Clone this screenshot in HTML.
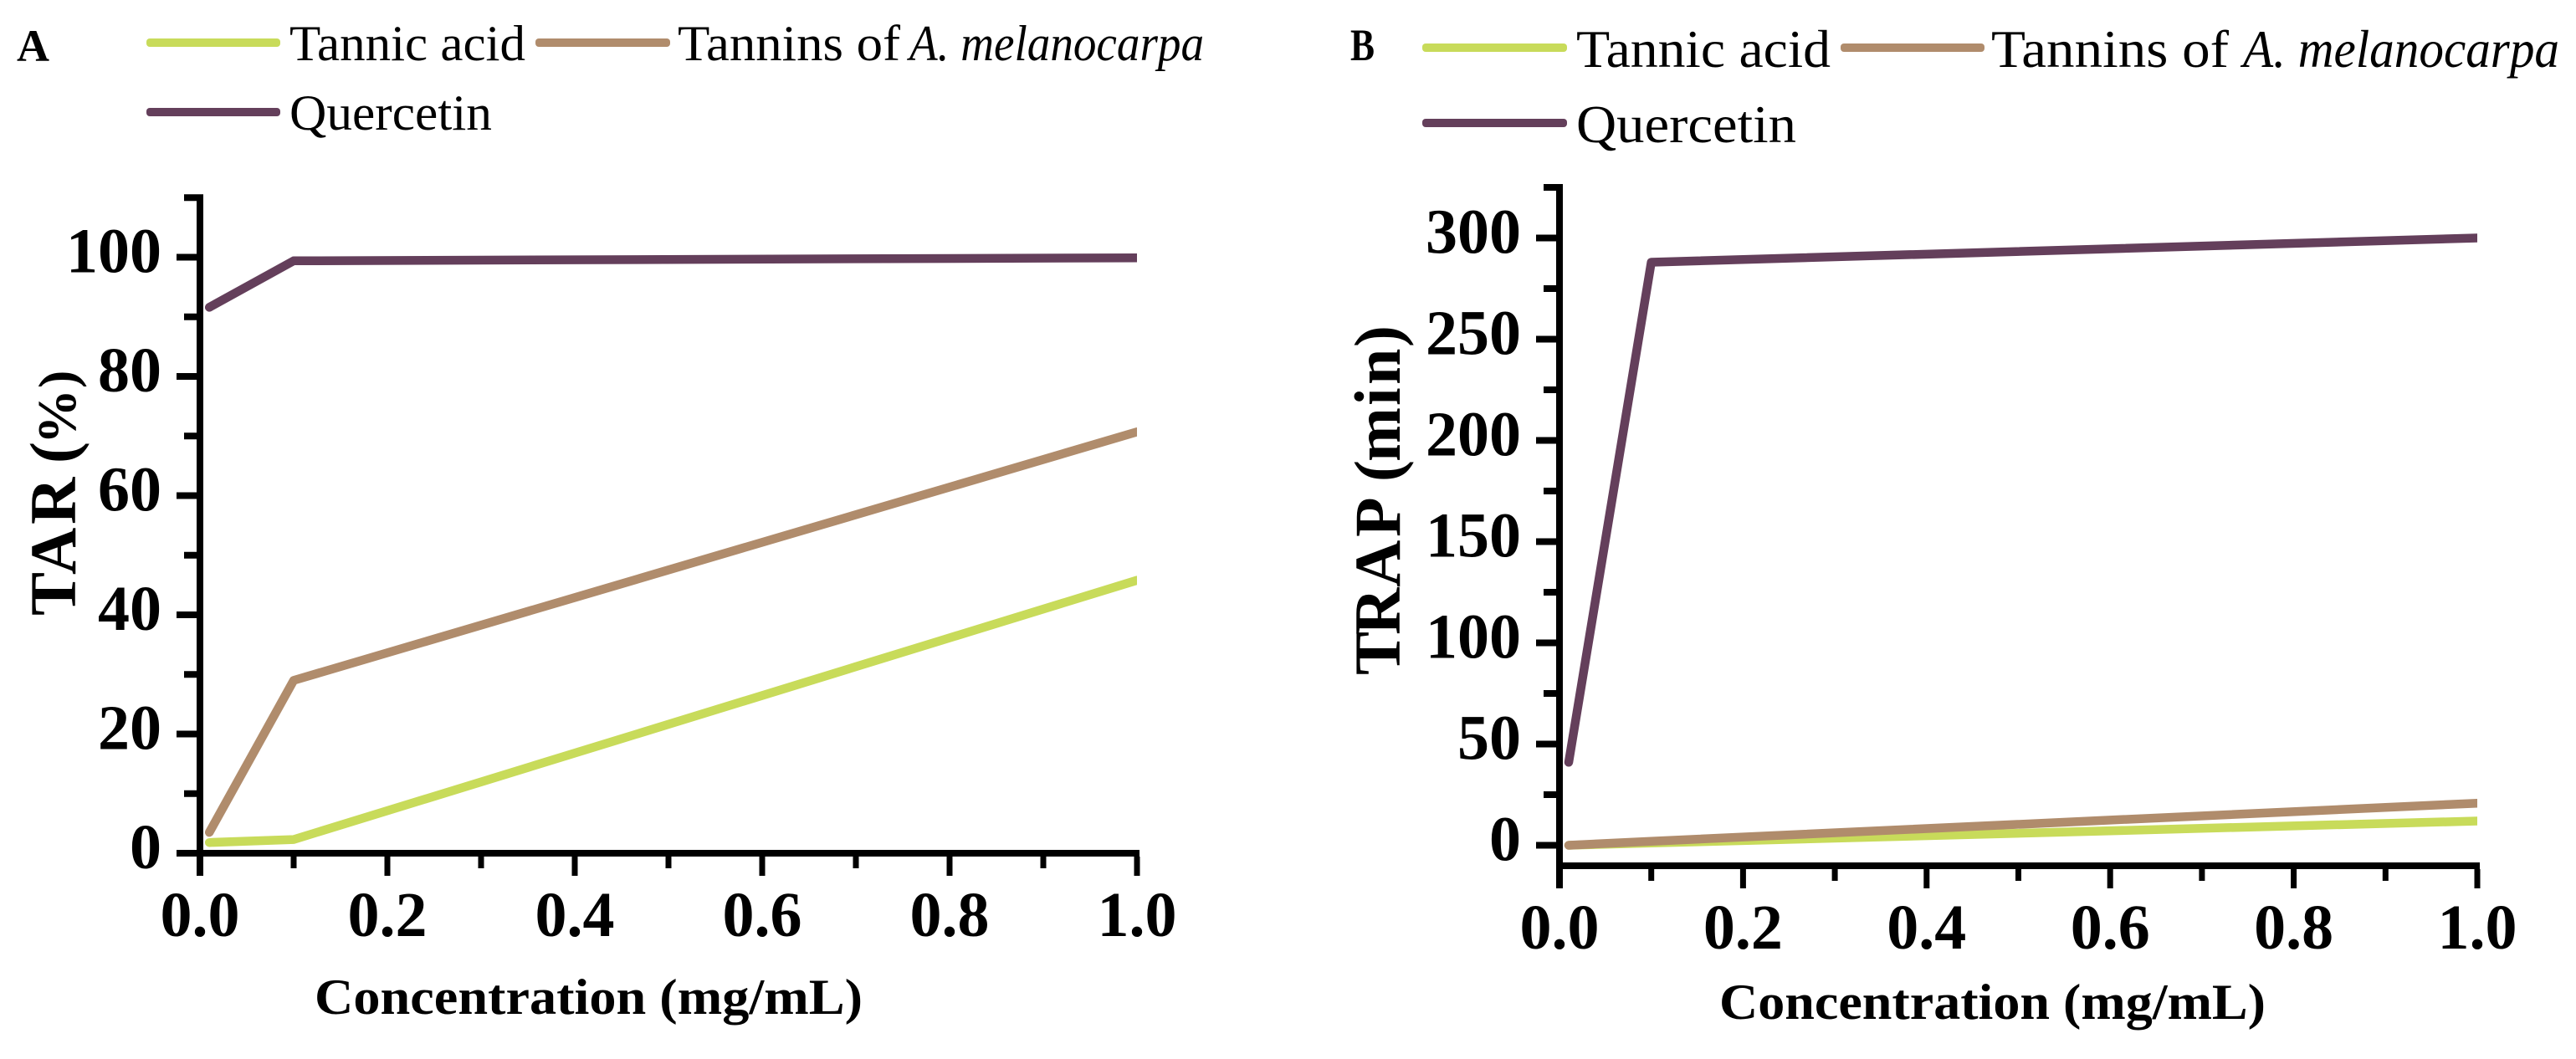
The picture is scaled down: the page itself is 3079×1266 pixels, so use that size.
<!DOCTYPE html>
<html>
<head>
<meta charset="utf-8">
<title>TAR and TRAP charts</title>
<style>
html,body{margin:0;padding:0;background:#fff;}
svg{display:block;}
text{font-family:"Liberation Serif",serif;fill:#000;}
.bold{font-weight:bold;}
</style>
</head>
<body>
<svg id="chart" xmlns="http://www.w3.org/2000/svg" width="3079" height="1266" viewBox="0 0 3079 1266">
  <rect width="3079" height="1266" fill="#fff"/>
  <defs>
    <clipPath id="clip-a"><rect x="239" y="200" width="1120" height="900"/></clipPath>
    <clipPath id="clip-b"><rect x="1864" y="200" width="1097" height="900"/></clipPath>
  </defs>

  <text x="20" y="73" font-size="54" class="bold" textLength="39" lengthAdjust="spacingAndGlyphs">A</text>
  <g>
    <rect x="175" y="46" width="160" height="10" rx="4" fill="#c8db5a"/>
    <text x="346" y="72" font-size="60" textLength="282" lengthAdjust="spacingAndGlyphs">Tannic acid</text>
    <rect x="640" y="46" width="161" height="10" rx="4" fill="#b08c6c"/>
    <text x="810" y="72" font-size="60" textLength="266" lengthAdjust="spacingAndGlyphs">Tannins of</text>
    <text x="1087" y="72" font-size="60" font-style="italic" textLength="352" lengthAdjust="spacingAndGlyphs">A. melanocarpa</text>
    <rect x="175" y="129" width="160" height="10" rx="4" fill="#643f5b"/>
    <text x="346" y="155" font-size="60" textLength="242" lengthAdjust="spacingAndGlyphs">Quercetin</text>
  </g>
  <text transform="translate(90,736) rotate(-90)" font-size="78" class="bold"><tspan x="0 49 109">TAR</tspan> <tspan x="182">(</tspan><tspan x="205" font-size="66">%</tspan><tspan x="272" font-size="64">)</tspan></text>
  <text x="376" y="1212" font-size="60" class="bold" textLength="655" lengthAdjust="spacingAndGlyphs">Concentration (mg/mL)</text>

  <text x="1614" y="72" font-size="54" class="bold" textLength="29" lengthAdjust="spacingAndGlyphs">B</text>
  <g>
    <rect x="1700" y="52" width="173" height="10" rx="4" fill="#c8db5a"/>
    <text x="1884" y="80" font-size="64" textLength="304" lengthAdjust="spacingAndGlyphs">Tannic acid</text>
    <rect x="2200" y="52" width="172" height="10" rx="4" fill="#b08c6c"/>
    <text x="2380" y="80" font-size="64" textLength="284" lengthAdjust="spacingAndGlyphs">Tannins of</text>
    <text x="2681" y="80" font-size="64" font-style="italic" textLength="378" lengthAdjust="spacingAndGlyphs">A. melanocarpa</text>
    <rect x="1700" y="142" width="173" height="10" rx="4" fill="#643f5b"/>
    <text x="1884" y="170" font-size="64" textLength="263" lengthAdjust="spacingAndGlyphs">Quercetin</text>
  </g>
  <text transform="translate(1673,807) rotate(-90)" font-size="78" class="bold"><tspan x="0 48 105 165">TRAP</tspan> <tspan x="231 255 322 347 392">(min)</tspan></text>
  <text x="2055" y="1218" font-size="60" class="bold" textLength="653" lengthAdjust="spacingAndGlyphs">Concentration (mg/mL)</text>

  <g id="panel-a"></g>
  <g id="panel-b"></g>
</svg>
<script>
var concentrations = [0.01, 0.1, 1.0];
var xMajorTicks = [0, 0.2, 0.4, 0.6, 0.8, 1.0];
var xMinorTicks = [0.1, 0.3, 0.5, 0.7, 0.9];

var tarTannicAcid = [1.8, 2.3, 45.8];
var tarTannins = [3.5, 29, 70.7];
var tarQuercetin = [91.6, 99.4, 99.9];
var tarMajorTicks = [0, 20, 40, 60, 80, 100];
var tarMinorTicks = [10, 30, 50, 70, 90, 110];

var trapTannicAcid = [0, 1.1, 12];
var trapTannins = [0, 2, 20.8];
var trapQuercetin = [41, 288, 300];
var trapMajorTicks = [0, 50, 100, 150, 200, 250, 300];
var trapMinorTicks = [25, 75, 125, 175, 225, 275, 325];

var NS = 'http://www.w3.org/2000/svg';

function make(parent, tag, attrs) {
  var el = document.createElementNS(NS, tag);
  for (var k in attrs) el.setAttribute(k, attrs[k]);
  parent.appendChild(el);
  return el;
}

function drawPanel(g, c) {
  var xs = function (v) { return c.x0 + v * c.xw; };
  var ys = function (v) { return c.y0 - v * c.yk; };
  var yBase = c.axisY;
  var top = ys(c.minor[c.minor.length - 1]);

  c.series.forEach(function (s) {
    var pts = concentrations.map(function (x, i) { return xs(x).toFixed(1) + ',' + ys(s.values[i]).toFixed(1); }).join(' ');
    var line = make(g, 'polyline', { points: pts, fill: 'none', stroke: s.color, 'stroke-width': c.lw, 'stroke-linecap': 'round', 'stroke-linejoin': 'round', 'clip-path': 'url(#' + c.clip + ')' });
    
    
  });

  var yAxis = make(g, 'rect', { x: c.x0 - 4, y: top - 4, width: 8, height: yBase + 27 - top + 4, fill: '#000' });
  
  

  var xAxis = make(g, 'rect', { x: c.xAxisStart, y: yBase - 4, width: c.x0 + c.xw + 3 - c.xAxisStart, height: 8, fill: '#000' });
  
  

  c.major.forEach(function (v) {
    var t = make(g, 'rect', { x: c.x0 - 28, y: ys(v) - 4, width: 24, height: 8, fill: '#000' });
    
    
    var l = make(g, 'text', { x: c.x0 - 46, y: ys(v) + 18, 'font-size': 76, 'font-weight': 'bold', 'text-anchor': 'end' });
    l.textContent = String(v);
    
    
  });

  c.minor.forEach(function (v) {
    var t = make(g, 'rect', { x: c.x0 - 19, y: ys(v) - 4, width: 15, height: 8, fill: '#000' });
    
    
  });

  xMajorTicks.forEach(function (v) {
    var t = make(g, 'rect', { x: xs(v) - 3.5, y: yBase + 4, width: 7, height: 23, fill: '#000' });
    
    
    var l = make(g, 'text', { x: xs(v), y: yBase + 99, 'font-size': 76, 'font-weight': 'bold', 'text-anchor': 'middle' });
    l.textContent = v.toFixed(1);
    
    
  });

  xMinorTicks.forEach(function (v) {
    var t = make(g, 'rect', { x: xs(v) - 3.5, y: yBase + 4, width: 7, height: 14, fill: '#000' });
    
    
  });
}

drawPanel(document.getElementById('panel-a'), {
  x0: 239, xw: 1120, y0: 1020, yk: 7.125, axisY: 1020, xAxisStart: 211, lw: 10.5, clip: 'clip-a',
  major: tarMajorTicks, minor: tarMinorTicks,
  series: [
    { name: 'tar-tannic-acid-line', color: '#c8db5a', values: tarTannicAcid },
    { name: 'tar-tannins-line', color: '#b08c6c', values: tarTannins },
    { name: 'tar-quercetin-line', color: '#643f5b', values: tarQuercetin }
  ]
});

drawPanel(document.getElementById('panel-b'), {
  x0: 1864, xw: 1097, y0: 1010.5, yk: 2.42, axisY: 1035, xAxisStart: 1860, lw: 10.5, clip: 'clip-b',
  major: trapMajorTicks, minor: trapMinorTicks,
  series: [
    { name: 'trap-tannic-acid-line', color: '#c8db5a', values: trapTannicAcid },
    { name: 'trap-tannins-line', color: '#b08c6c', values: trapTannins },
    { name: 'trap-quercetin-line', color: '#643f5b', values: trapQuercetin }
  ]
});
</script>
</body>
</html>
